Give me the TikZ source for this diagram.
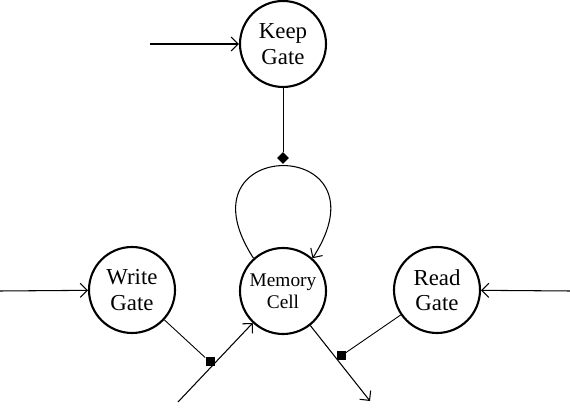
\documentclass[tikz,border=0pt]{standalone}
\usepackage{fontspec}
\setmainfont{Liberation Serif}
\usetikzlibrary{arrows.meta,shapes.geometric}

\begin{document}
\begin{tikzpicture}[
        gate/.style={circle, draw, line width=1.2pt, minimum size=1.72cm, inner sep=0pt, align=center, font=\fontsize{13}{14.5}\selectfont},
        cell/.style={gate, font=\fontsize{11}{12.5}\selectfont},
        arrow/.style={-{Straight Barb[length=4pt,width=8pt]}, line width=0.6pt},
        link/.style={line width=0.5pt},
        mult/.style={rectangle, fill=black, minimum size=0.18cm, inner sep=0pt},
        keepmark/.style={diamond, fill=black, minimum size=0.24cm, inner sep=0pt}
    ]
    \useasboundingbox (0,0) rectangle (11.4,8.26);

    % gates and the cell
    \node[gate] (keep) at (5.66, 7.38) {Keep\\Gate};
    \node[cell] (memory) at (5.66, 2.44) {Memory\\Cell};
    \node[gate] (write) at (2.64, 2.46) {Write\\Gate};
    \node[gate] (read) at (8.74, 2.46) {Read\\Gate};

    % loose ends
    \coordinate (keepin) at (3.00, 7.38);
    \coordinate (writein) at (0, 2.44);
    \coordinate (readin) at (11.40, 2.44);
    \coordinate (cellin) at (3.56, 0.22);
    \coordinate (cellout) at (7.40, 0.24);

    % multipliers
    \node[keepmark] (kmul) at (5.66, 5.10) {};
    \node[mult] (wmul) at (4.20, 1.02) {};
    \node[mult] (rmul) at (6.82, 1.14) {};

    % inputs
    \draw[arrow] (keepin) -- (keep);
    \draw[arrow] (writein) -- (write);
    \draw[arrow] (readin) -- (read);

    % gating lines
    \draw[link] (keep) -- (kmul);
    \draw[link] (write) -- (wmul);
    \draw[link] (read) -- (rmul);

    % cell in, out and self loop
    \draw[arrow] (cellin) -- (memory);
    \draw[arrow] (memory) -- (cellout);
    \draw[arrow] (memory.132) to[out=123, in=57, looseness=6.4] (memory.48);

\end{tikzpicture}
\end{document}
